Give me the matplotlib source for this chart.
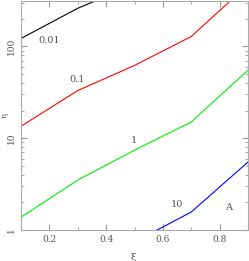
import matplotlib
matplotlib.use("Agg")
import matplotlib.pyplot as plt
import numpy as np

xi = [0.1, 0.3, 0.5, 0.7, 0.9]
eta_001 = [122, 260, 470, 800, 1400]
eta_01 = [13.5, 33, 62, 128, 470]
eta_1 = [1.38, 3.5, 7.4, 15, 55]
eta_10 = [0.25, 0.45, 0.74, 1.57, 5.5]

series = [(eta_001, "black", "0.01", (0.2, 116)),
          (eta_01, "red", "0.1", (0.297, 44)),
          (eta_1, "#00ee00", "1", (0.498, 9.5)),
          (eta_10, "blue", "10", (0.649, 1.9))]

txtc = "#555555"
fig = plt.figure(figsize=(2.49, 2.61), dpi=100)
ax = fig.add_axes([21/249, 31/261, 227/249, 229.5/261])
for ys, c, lab, pos in series:
    ax.plot(xi, ys, color=c, lw=0.8)
    ax.text(pos[0], pos[1], lab, color=txtc, fontsize=7, family="DejaVu Serif",
            ha="center", va="center")
ax.text(0.83, 1.78, "A", color=txtc, fontsize=7, family="DejaVu Serif", ha="center", va="center")
ax.set_yscale("log")
ax.set_xlim(0.1, 0.9)
ax.set_ylim(1, 316)
ax.set_xticks([0.2, 0.4, 0.6, 0.8])
ax.set_xticks(np.arange(0.1, 0.91, 0.1), minor=True)
ax.set_yticks([1, 10, 100])
ax.set_yticklabels(["1", "10", "100"], rotation=90, va="center")
ax.tick_params(which="both", direction="in", top=True, right=True, colors="#999999",
               labelcolor=txtc, labelsize=6.5)
ax.tick_params(which="major", length=4)
ax.tick_params(which="minor", length=2)
for lab in ax.get_xticklabels() + ax.get_yticklabels():
    lab.set_family("DejaVu Serif")
for s in ax.spines.values():
    s.set_color("#aaaaaa")
ax.set_xlabel("ξ", color=txtc, fontsize=7, family="DejaVu Serif")
ax.set_ylabel("η", color=txtc, fontsize=6, family="DejaVu Serif")
ax.xaxis.set_label_coords(0.493, -0.118)
ax.yaxis.set_label_coords(-0.072, 0.5)
ax.xaxis.label.set_va("center")
ax.yaxis.label.set_va("center")
fig.savefig("out.png", dpi=100)
